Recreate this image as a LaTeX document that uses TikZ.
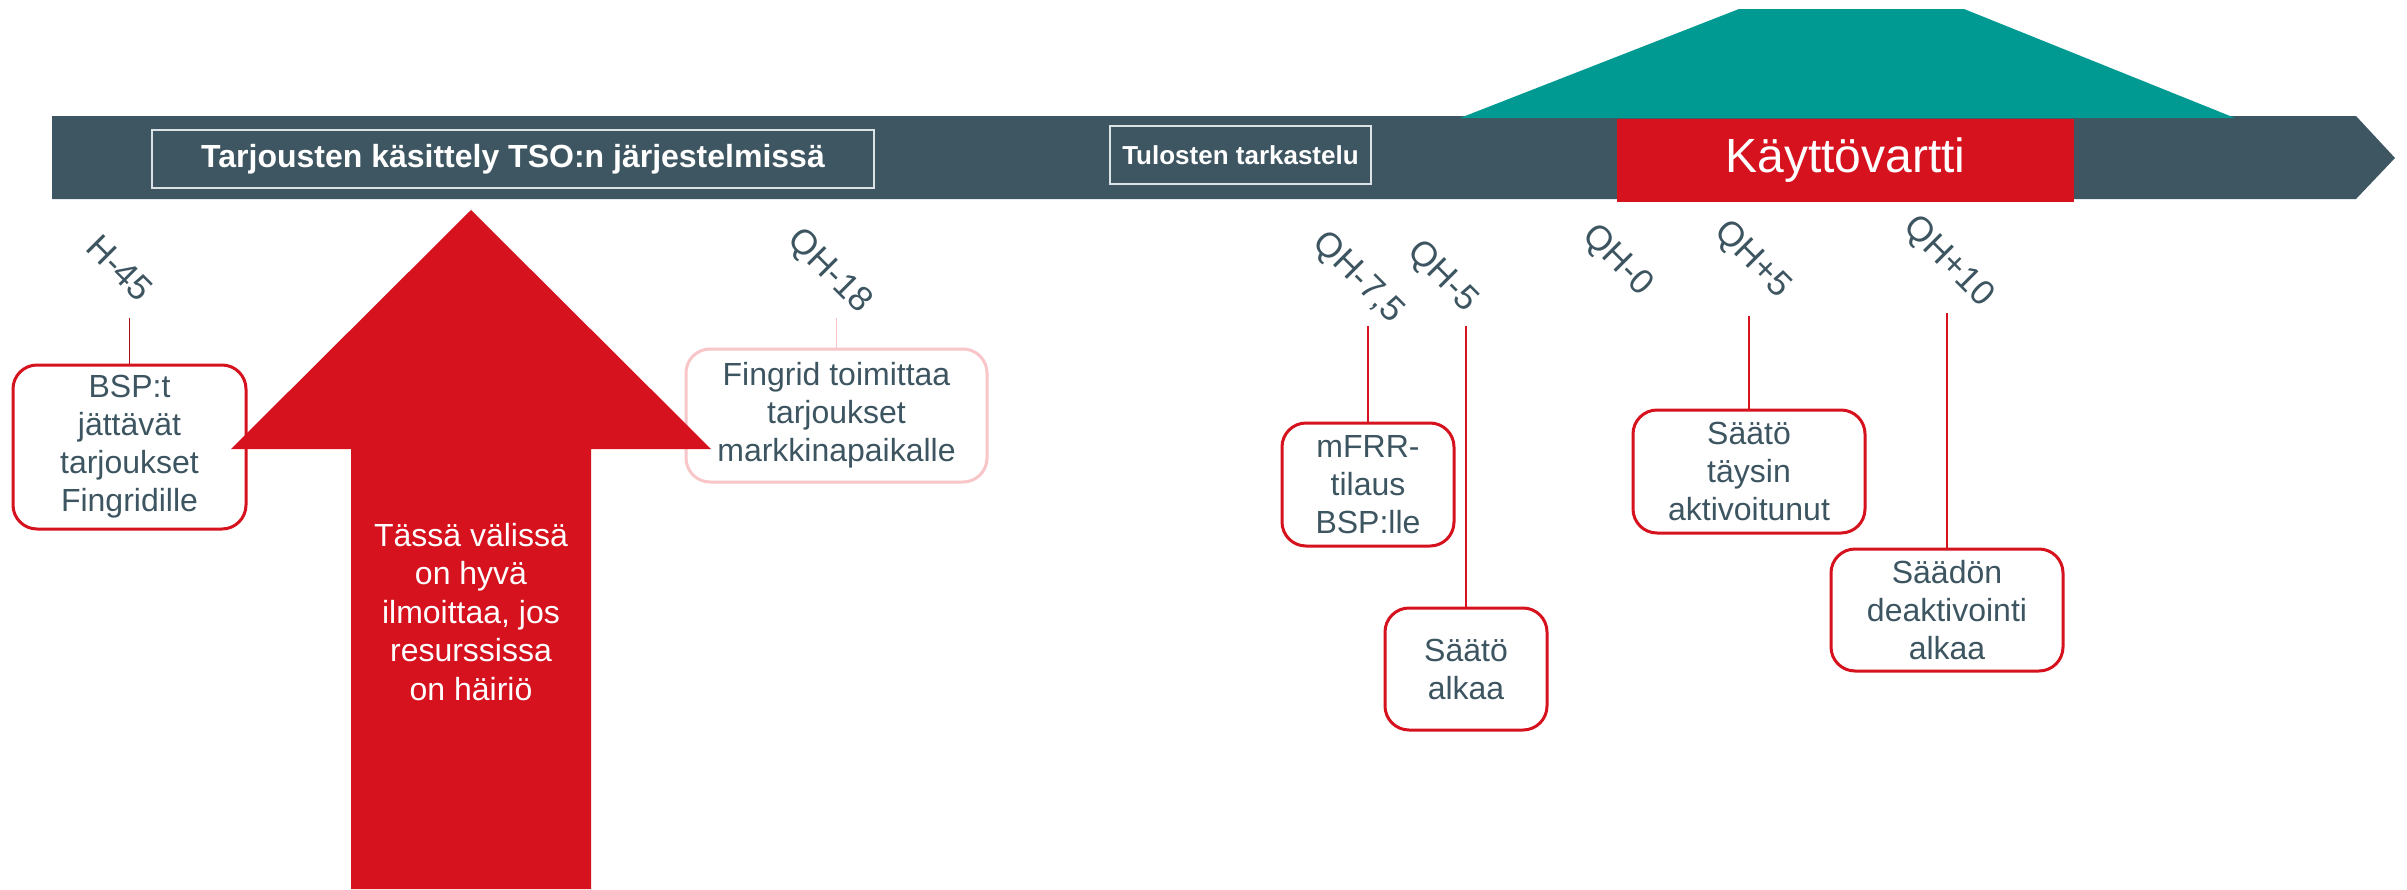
\documentclass[tikz,border=0pt]{standalone}
\usepackage{fontspec}
\setmainfont{Liberation Sans}
\definecolor{barc}{HTML}{3E5661}
\definecolor{txtc}{HTML}{3D5561}
\definecolor{redc}{HTML}{D5121E}
\definecolor{tealc}{HTML}{009A93}
\definecolor{pinkc}{HTML}{F8C6C9}
\definecolor{framec}{HTML}{DCE3E6}
\begin{document}
\begin{tikzpicture}[x=1pt,y=-1pt,
  lbl/.style={rotate=-45,text=txtc,inner sep=0pt,font=\fontsize{35}{40}\selectfont},
  evbox/.style={draw=redc,line width=3pt,rounded corners=24pt,fill=white,text=txtc,align=center,inner sep=0pt,font=\fontsize{32}{38}\selectfont},
  tick/.style={draw=redc,line width=1.5pt},
  barframe/.style={draw=framec,line width=2.5pt,text=white,inner sep=0pt,font=\bfseries}
]
\useasboundingbox (0,0) rectangle (2407,889);
\fill[white] (0,0) rectangle (2407,889);
% timeline bar
\fill[barc] (52,116) -- (2356,116) -- (2395,158) -- (2356,199) -- (52,199) -- cycle;
% teal trapezoid
\fill[tealc] (1460,118) -- (1739,9) -- (1964,9) -- (2235,118) -- cycle;
% frames in bar
\node[barframe,minimum width=722pt,minimum height=58pt,font=\bfseries\fontsize{32}{38}\selectfont] (tso) at (513,159) {Tarjousten käsittely TSO:n järjestelmissä};
\node[barframe,minimum width=261pt,minimum height=58pt,font=\bfseries\fontsize{26}{30}\selectfont] (tul) at (1240.5,155) {Tulosten tarkastelu};
\node[fill=redc,text=white,inner sep=0pt,minimum width=457pt,minimum height=83pt,font=\fontsize{48}{56}\selectfont] (kv) at (1845.5,160.5) {Käyttövartti};
% labels
\node[lbl] (h45) at (120,268) {H-45};
\node[lbl] (qh18) at (829,272) {QH-18};
\node[lbl] (qh75) at (1358,278) {QH-7,5};
\node[lbl] (qh5) at (1442,277) {QH-5};
\node[lbl] (qh0) at (1617,261) {QH-0};
\node[lbl] (qhp5) at (1752,260) {QH+5};
\node[lbl] (qhp10) at (1948,262) {QH+10};
% event boxes
\node[evbox,minimum width=233pt,minimum height=164pt] (bsp) at (129.5,447) {BSP:t\\jättävät\\tarjoukset\\Fingridille};
\node[evbox,draw=pinkc,minimum width=301pt,minimum height=133pt] (fg) at (836.5,415.5) {Fingrid toimittaa\\tarjoukset\\markkinapaikalle};
\node[evbox,minimum width=172pt,minimum height=123pt] (mfrr) at (1368,484.5) {mFRR-\\tilaus\\BSP:lle};
\node[evbox,minimum width=162pt,minimum height=122pt] (sa) at (1466,669) {Säätö\\alkaa};
\node[evbox,minimum width=232pt,minimum height=123pt] (st) at (1749,471.5) {Säätö\\täysin\\aktivoitunut};
\node[evbox,minimum width=232pt,minimum height=122pt] (sd) at (1947,610) {Säädön\\deaktivointi\\alkaa};
% tick line tops
\coordinate (t1) at (129.5,318);
\coordinate (t2) at (836.5,318);
\coordinate (t3) at (1368,326);
\coordinate (t4) at (1466,326);
\coordinate (t5) at (1749,316);
\coordinate (t6) at (1947,313);
\draw[tick,draw=redc!75!black] (bsp.north) -- (bsp.north |- t1);
\draw[tick,draw=pinkc] (fg.north) -- (fg.north |- t2);
\draw[tick] (mfrr.north) -- (mfrr.north |- t3);
\draw[tick] (sa.north) -- (sa.north |- t4);
\draw[tick] (st.north) -- (st.north |- t5);
\draw[tick] (sd.north) -- (sd.north |- t6);
% big red arrow
\fill[redc] (471,210) -- (711,449) -- (591,449) -- (591,889) -- (351,889) -- (351,449) -- (231,449) -- cycle;
\node[text=white,align=center,inner sep=0pt,font=\fontsize{32}{38.5}\selectfont] (note) at (471,612) {Tässä välissä\\on hyvä\\ilmoittaa, jos\\resurssissa\\on häiriö};
\end{tikzpicture}
\end{document}
